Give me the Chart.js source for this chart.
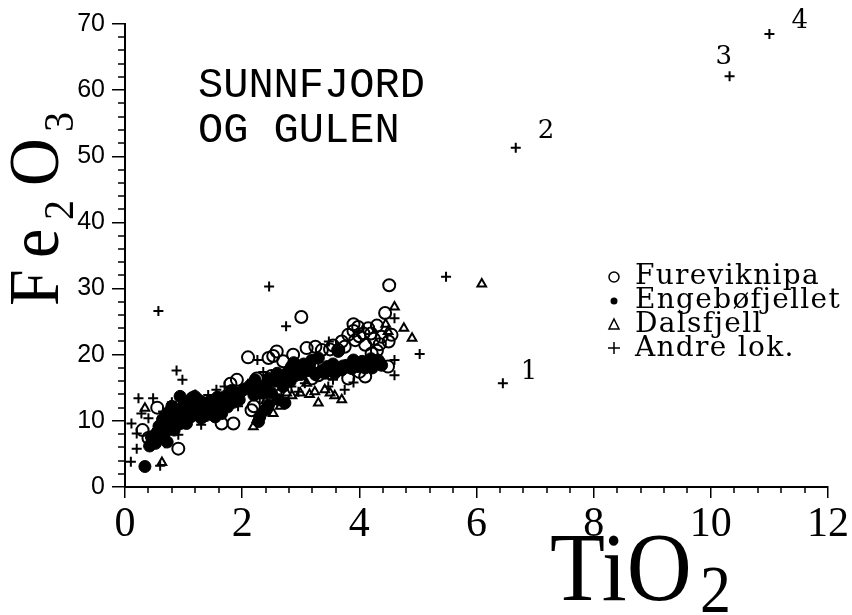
<!DOCTYPE html>
<html>
<head>
<meta charset="utf-8">
<script src="https://cdn.jsdelivr.net/npm/chart.js@4.4.1/dist/chart.umd.min.js"></script>
<style>
  html, body { margin: 0; padding: 0; background: #fff; }
</style>
</head>
<body>
<canvas id="chart" width="852" height="615"></canvas>
<script>
// TiO2 (x) vs Fe2O3 (y)
const fureviknipa = [
  [0.4,7.4],[0.91,5.8],[1.65,9.6],[1.85,9.6],[2.16,11.6],[1.91,16.2],[2.25,16.4],[2.1,19.6],
  [2.45,19.5],[2.59,20.5],[2.53,19.8],[2.87,20.0],[3.01,25.7],[3.1,21.0],[3.36,20.7],[3.5,20.8],
  [3.64,20.7],[3.81,23.0],[3.9,23.6],[3.98,24.2],[4.07,23.2],[4.15,24.0],[3.93,22.2],[4.1,21.5],
  [4.25,22.4],[4.38,22.7],[4.55,23.0],[4.44,26.3],[4.51,30.5],[4.21,20.2],[4.49,18.2],[4.1,16.7],
  [3.81,16.4],[3.3,16.9],[3.19,16.4],[1.15,13.4],[0.55,12.0],[0.3,8.6],[3.7,22.0],[4.3,24.4],[2.5,16.8],
  [3.55,21.4],[3.75,21.2],[4.0,22.8],[4.2,23.2],[4.35,21.6],[4.5,22.0],[3.9,24.6],[4.3,20.6],
  [2.7,19.0],[3.25,21.2],[1.8,15.6],[2.2,12.2],[4.0,17.4],[3.5,17.2]
];
const engebofjellet = [
  [0.34,3.1],[0.42,6.2],[0.46,6.8],[0.5,7.5],[0.55,8.3],[0.6,7.6],[0.62,8.8],[0.66,9.4],[0.7,8.4],
  [0.74,9.8],[0.78,10.3],[0.82,9.2],[0.86,10.8],[0.9,11.6],[0.94,13.7],[0.98,10.4],[1.02,11.2],
  [1.08,12.0],[1.14,11.4],[1.19,13.7],[1.22,12.6],[1.28,12.1],[1.35,11.8],[1.42,11.1],[1.48,12.4],
  [1.54,10.6],[1.6,12.9],[1.65,11.1],[1.71,13.7],[1.75,12.1],[1.82,14.6],[1.88,14.2],[1.95,13.2],
  [2.28,9.9],[2.2,13.9],[2.3,15.0],[2.36,14.2],[2.42,15.6],[2.5,14.2],[2.56,16.0],[2.62,13.2],
  [2.67,16.2],[2.73,12.7],[2.78,17.4],[2.84,18.2],[2.9,16.8],[2.96,17.7],[3.05,18.6],[3.12,17.6],
  [3.19,19.2],[3.3,19.5],[3.36,17.6],[3.41,17.2],[3.5,17.8],[3.58,17.2],[3.64,18.0],[3.7,17.7],
  [3.78,18.4],[3.87,17.9],[3.93,18.6],[3.98,18.2],[4.05,19.0],[4.15,18.7],[4.22,18.0],[4.27,19.0],
  [4.32,19.2],[4.38,18.4],[3.64,20.5],[2.39,11.6],[1.3,10.4],[0.72,6.8],[1.05,9.6],
  [0.45,7.6],[0.52,6.6],[0.58,9.2],[0.64,10.2],[0.7,10.8],[0.76,11.4],[0.8,12.2],[0.84,8.6],
  [0.95,9.6],[1.0,12.4],[1.1,13.0],[1.12,10.6],[1.18,11.0],[1.25,13.2],[1.32,12.8],[1.38,10.8],
  [1.45,13.0],[1.52,11.8],[1.58,13.6],[1.62,11.6],[1.68,12.6],[1.78,13.4],[1.85,12.8],[1.98,14.4],
  [2.05,14.8],[2.14,15.4],[2.22,16.2],[2.28,14.6],[2.45,16.4],[2.6,17.2],[2.7,15.2],[2.82,16.0],
  [2.88,18.8],[3.0,17.0],[3.15,18.4],[3.25,17.0],[3.45,18.2],[3.55,18.6],[3.72,18.3],[3.9,19.2],
  [4.1,18.0],[4.2,19.4],[4.35,18.8],[2.3,10.6],[2.45,12.4]
];
const dalsfjell = [
  [0.63,3.7],[0.34,11.9],[2.19,9.1],[2.53,11.1],[2.59,13.4],[2.76,14.2],[2.99,14.2],[3.1,15.7],
  [3.24,14.4],[3.3,12.7],[3.41,14.7],[3.58,13.8],[4.49,23.5],[4.6,27.2],[4.76,24.0],[4.9,22.5],
  [6.09,30.7],[2.4,13.0],[2.85,13.8],[3.15,14.0],[3.5,14.2],[3.7,13.2],[2.65,12.2],[2.25,10.2],[4.45,24.6]
];
const andreLok = [
  [0.57,26.6],[2.46,30.3],[2.75,24.3],[0.88,17.6],[0.98,16.2],[0.23,13.4],[0.48,13.4],[0.11,9.6],
  [0.2,8.1],[0.2,5.8],[0.1,3.8],[0.6,3.2],[0.68,6.6],[0.91,7.9],[0.65,11.4],[0.28,11.1],[3.48,22.0],
  [2.26,19.2],[2.36,17.4],[2.5,16.9],[1.42,13.9],[1.56,14.7],[1.93,12.2],[2.3,13.4],[2.84,15.2],
  [3.07,15.7],[2.96,14.4],[3.75,14.7],[4.6,25.5],[4.6,19.2],[4.6,16.9],[5.03,20.1],[3.47,15.2],
  [2.67,14.7],[5.48,31.8],[6.45,15.7],[6.67,51.3],[10.32,62.1],[11.0,68.5],
  [1.0,13.6],[1.2,14.0],[1.7,15.2],[1.85,13.8],[2.1,15.6],[3.3,18.0],[3.55,16.2],[3.9,15.8],
  [0.4,10.4],[0.8,12.8],[1.3,9.4]
];
// numbered samples (index into andreLok)
const numberedLabels = ['1', '2', '3', '4'];
const numberedIdx = [35, 36, 37, 38];

const seriesNames = ['Fureviknipa', 'Engebøfjellet', 'Dalsfjell', 'Andre lok.'];
const xTicks = [0, 2, 4, 6, 8, 10, 12];
const yTicks = [0, 10, 20, 30, 40, 50, 60, 70];

const toPts = arr => arr.map(p => ({ x: p[0], y: p[1] }));

// small tick marks between the labelled ones
const minorTicks = {
  id: 'minorTicks',
  afterDraw(chart) {
    const ctx = chart.ctx, xs = chart.scales.x, ys = chart.scales.y;
    const a = chart.chartArea;
    ctx.save();
    ctx.strokeStyle = '#000';
    ctx.lineWidth = 1.5;
    ctx.beginPath();
    for (let i = 0; i <= 30; i++) {
      if (i % 5 === 0) continue;
      const px = Math.round(xs.getPixelForValue(i * 0.4));
      ctx.moveTo(px, a.bottom);
      ctx.lineTo(px, a.bottom + 6);
    }
    for (let i = 0; i <= 35; i++) {
      if (i % 5 === 0) continue;
      const py = Math.round(ys.getPixelForValue(i * 2));
      ctx.moveTo(a.left, py);
      ctx.lineTo(a.left - 7, py);
    }
    ctx.stroke();
    ctx.restore();
  }
};

// axis titles, inset text, legend and sample numbers
const annotations = {
  id: 'annotations',
  afterDraw(chart) {
    const ctx = chart.ctx, xs = chart.scales.x, ys = chart.scales.y;
    ctx.save();
    ctx.fillStyle = '#000';
    ctx.textBaseline = 'alphabetic';
    ctx.textAlign = 'left';

    // y title: Fe2O3, rotated and a bit stretched like the plotter font
    ctx.save();
    ctx.translate(58, 306);
    ctx.rotate(-Math.PI / 2);
    ctx.scale(1, 1.08);
    ctx.font = '66px "Liberation Serif"';
    ctx.fillText('F', 0, 0);
    ctx.fillText('e', 48, 0);
    ctx.fillText('O', 120, 0);
    ctx.font = '40px "Liberation Serif"';
    ctx.fillText('2', 86, 14);
    ctx.fillText('3', 174, 14);
    ctx.restore();

    // x title: TiO2
    ctx.save();
    ctx.translate(550, 600);
    ctx.scale(1, 1.08);
    ctx.font = '90px "Liberation Serif"';
    ctx.fillText('TiO', 0, 0);
    ctx.font = '62px "Liberation Serif"';
    ctx.fillText('2', 150, 11);
    ctx.restore();

    // inset title
    ctx.font = '42px "Liberation Mono"';
    ctx.fillText('SUNNFJORD', 198, 97);
    ctx.fillText('OG GULEN', 198, 142);

    // legend
    ctx.font = '28px "DejaVu Serif"';
    ctx.letterSpacing = '1.3px';
    const ly = [284, 308, 332, 356];
    seriesNames.forEach((name, i) => {
      ctx.fillText(name, 635, ly[i]);
    });
    ctx.letterSpacing = '0px';
    ctx.lineWidth = 1.5;
    ctx.strokeStyle = '#000';
    const mx = 614;
    ctx.beginPath(); ctx.arc(mx, ly[0] - 7, 5, 0, Math.PI * 2); ctx.stroke();
    ctx.beginPath(); ctx.arc(mx, ly[1] - 7, 3.5, 0, Math.PI * 2); ctx.fill();
    ctx.beginPath();
    ctx.moveTo(mx, ly[2] - 13); ctx.lineTo(mx + 5, ly[2] - 3); ctx.lineTo(mx - 5, ly[2] - 3); ctx.closePath();
    ctx.stroke();
    ctx.beginPath();
    ctx.moveTo(mx - 6, ly[3] - 8); ctx.lineTo(mx + 6, ly[3] - 8);
    ctx.moveTo(mx, ly[3] - 14); ctx.lineTo(mx, ly[3] - 2);
    ctx.stroke();

    // sample numbers next to the outlying points
    const offs = [[18, -4], [22, -10], [-14, -12], [22, -6]];
    ctx.font = '26px "DejaVu Serif"';
    numberedIdx.forEach((k, i) => {
      const px = xs.getPixelForValue(andreLok[k][0]);
      const py = ys.getPixelForValue(andreLok[k][1]);
      ctx.fillText(numberedLabels[i], px + offs[i][0], py + offs[i][1]);
    });
    ctx.restore();
  }
};

const ctx = document.getElementById('chart').getContext('2d');
new Chart(ctx, {
  type: 'scatter',
  data: {
    datasets: [
      { label: seriesNames[1], data: toPts(engebofjellet), pointStyle: 'circle', pointRadius: 6,
        backgroundColor: '#000', borderColor: '#000', borderWidth: 1 },
      { label: seriesNames[0], data: toPts(fureviknipa), pointStyle: 'circle', pointRadius: 6,
        backgroundColor: 'rgba(0,0,0,0)', borderColor: '#000', borderWidth: 2 },
      { label: seriesNames[2], data: toPts(dalsfjell), pointStyle: 'triangle', pointRadius: 5,
        backgroundColor: 'rgba(0,0,0,0)', borderColor: '#000', borderWidth: 2 },
      { label: seriesNames[3], data: toPts(andreLok), pointStyle: 'cross', pointRadius: 5,
        backgroundColor: '#000', borderColor: '#000', borderWidth: 2 }
    ]
  },
  options: {
    responsive: false,
    animation: false,
    devicePixelRatio: 1,
    layout: { padding: { left: 0, right: 24, top: 24, bottom: 0 } },
    plugins: { legend: { display: false }, tooltip: { enabled: false } },
    scales: {
      x: {
        type: 'linear', min: 0, max: 12,
        afterFit(s) { s.height = 128; },
        afterBuildTicks(s) { s.ticks = xTicks.map(v => ({ value: v })); },
        grid: { drawOnChartArea: false, drawTicks: true, tickLength: 11, color: '#000', lineWidth: 1.5 },
        border: { display: true, color: '#000', width: 2 },
        ticks: { color: '#000', padding: 2, maxRotation: 0, font: { family: 'Liberation Serif', size: 42 } }
      },
      y: {
        type: 'linear', min: 0, max: 70,
        afterFit(s) { s.width = 125; },
        afterBuildTicks(s) { s.ticks = yTicks.map(v => ({ value: v })); },
        grid: { drawOnChartArea: false, drawTicks: true, tickLength: 13, color: '#000', lineWidth: 1.5 },
        border: { display: true, color: '#000', width: 2 },
        ticks: { color: '#000', padding: 7, font: { family: 'Liberation Sans', size: 25 } }
      }
    }
  },
  plugins: [minorTicks, annotations]
});
</script>
</body>
</html>
